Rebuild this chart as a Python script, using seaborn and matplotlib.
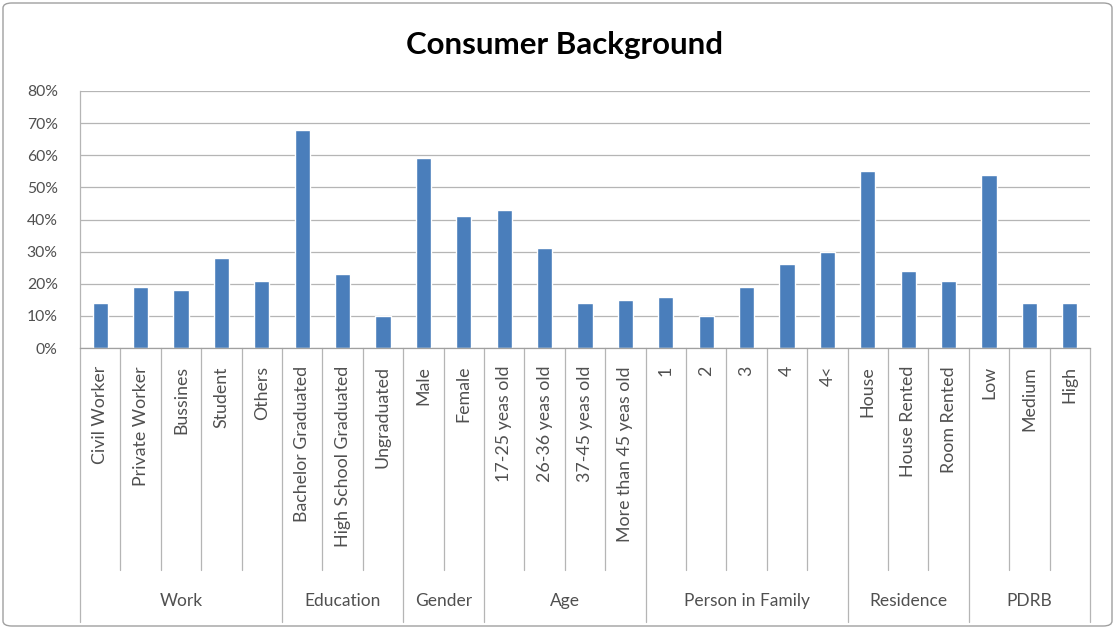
import matplotlib
matplotlib.use("Agg")
import matplotlib.pyplot as plt
import seaborn as sns
import pandas as pd
from matplotlib.transforms import blended_transform_factory
from matplotlib.patches import FancyBboxPatch

groups = ["Work", "Education", "Gender", "Age", "Person in Family", "Residence", "PDRB"]
group_sizes = [5, 3, 2, 4, 5, 3, 3]
categories = ["Civil Worker", "Private Worker", "Bussines", "Student", "Others",
              "Bachelor Graduated", "High School Graduated", "Ungraduated",
              "Male", "Female",
              "17-25 yeas old", "26-36 yeas old", "37-45 yeas old", "More than 45 yeas old",
              "1", "2", "3", "4", "4<",
              "House", "House Rented", "Room Rented",
              "Low", "Medium", "High"]
values = [14, 19, 18, 28, 21,
          68, 23, 10,
          59, 41,
          43, 31, 14, 15,
          16, 10, 19, 26, 30,
          55, 24, 21,
          54, 14, 14]
yticks = [0, 10, 20, 30, 40, 50, 60, 70, 80]

sns.set_theme(style="white")
plt.rcParams['font.family'] = ['Lato', 'DejaVu Sans']

W, H = 1115, 629
fig = plt.figure(figsize=(W / 100, H / 100), dpi=100)
x0, x1 = 80, 1090
ytop, ybot = 91, 348
ax = fig.add_axes([x0 / W, (H - ybot) / H, (x1 - x0) / W, (ybot - ytop) / H])

df = pd.DataFrame({"cat": categories, "val": values})
sns.barplot(data=df, x="cat", y="val", order=categories, color="#4A7EBB",
            saturation=1, width=0.38, ax=ax)

ax.set_ylim(0, 80)
ax.set_xlim(-0.5, len(categories) - 0.5)
ax.set_yticks(yticks)
ax.set_yticklabels([f"{t}%" for t in yticks], fontsize=11.3, color="#505050")
ax.tick_params(axis="y", length=0, pad=16)
ax.set_xticks([])
ax.set_xlabel("")
ax.set_ylabel("")
ax.yaxis.grid(True, color="#b5b5b5", lw=0.9)
ax.set_axisbelow(True)
for s in ["top", "right"]:
    ax.spines[s].set_visible(False)
ax.spines["left"].set_color("#b5b5b5")
ax.spines["bottom"].set_color("#a0a0a0")
ax.spines["left"].set_linewidth(0.9)
ax.spines["bottom"].set_linewidth(0.9)

axh = ybot - ytop
def fy(px):
    return -(px - ybot) / axh

tr = blended_transform_factory(ax.transData, ax.transAxes)
# category labels
for i, c in enumerate(categories):
    ax.text(i, fy(366), c, rotation=90, ha="center", va="top", fontsize=12.8,
            color="#505050", transform=tr, clip_on=False)
# divider lines
bounds = [0]
for s in group_sizes:
    bounds.append(bounds[-1] + s)
for i in range(len(categories) + 1):
    xpos = i - 0.5
    if i in bounds:
        ax.plot([xpos, xpos], [0, fy(622)], color="#b5b5b5", lw=0.9, transform=tr, clip_on=False)
    else:
        ax.plot([xpos, xpos], [0, fy(570)], color="#b5b5b5", lw=0.9, transform=tr, clip_on=False)
# group labels
for g, a, b in zip(groups, bounds[:-1], bounds[1:]):
    ax.text((a + b - 1) / 2, fy(601), g, ha="center", va="center", fontsize=12.5,
            color="#505050", transform=tr, clip_on=False)

fig.text(565 / W, 1 - 45 / H, "Consumer Background", ha="center", va="center",
         fontsize=22.5, fontweight="bold", color="#000000")

border = FancyBboxPatch((3 / W, 3 / H), (W - 6) / W, (H - 6) / H,
                        boxstyle="round,pad=0,rounding_size=0.008",
                        transform=fig.transFigure, fill=False, ec="#a0a0a0", lw=1.0)
fig.patches.append(border)

fig.savefig("out.png", dpi=100)
